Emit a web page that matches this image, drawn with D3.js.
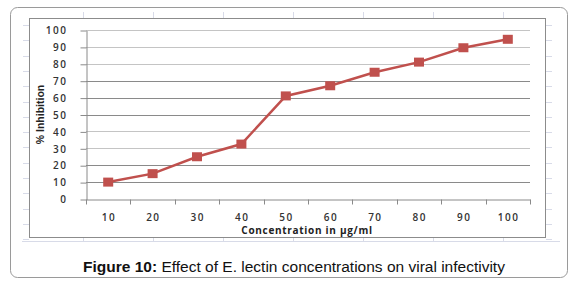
<!DOCTYPE html>
<html>
<head>
<meta charset="utf-8">
<script src="https://cdn.jsdelivr.net/npm/d3@7"></script>
<style>
  body { margin: 0; background: #fff; }
  svg { display: block; }
</style>
</head>
<body>
<div id="chart"></div>
<script>
var concentrations = [10, 20, 30, 40, 50, 60, 70, 80, 90, 100];
var inhibition = [10, 15, 25, 32.5, 61, 67, 75, 81, 89.5, 94.5];
var yTicks = [0, 10, 20, 30, 40, 50, 60, 70, 80, 90, 100];
// gridlines that come out lighter in the original
var lightGrid = [30, 40, 80, 90, 100];

var w = 576, h = 287;
var svg = d3.select("#chart").append("svg")
  .attr("width", w)
  .attr("height", h);

// outer figure frame
svg.append("rect")
  .attr("x", 10.5).attr("y", 7.5)
  .attr("width", 557).attr("height", 270)
  .attr("rx", 7)
  .style("fill", "#fff")
  .style("stroke", "#9a9a9a");

// faint spreadsheet cells peeking round the chart
var cells = svg.append("g").style("stroke", "#d8dbe8").style("stroke-width", 1);
d3.range(25, 240, 15.3).forEach(function(y) {
  cells.append("line").attr("x1", 23).attr("x2", 29).attr("y1", Math.round(y) + .5).attr("y2", Math.round(y) + .5);
  cells.append("line").attr("x1", 546).attr("x2", 552).attr("y1", Math.round(y) + .5).attr("y2", Math.round(y) + .5);
});
d3.range(83, 520, 70).forEach(function(x) {
  cells.append("line").attr("x1", x + .5).attr("x2", x + .5).attr("y1", 12).attr("y2", 18);
  cells.append("line").attr("x1", x + .5).attr("x2", x + .5).attr("y1", 238).attr("y2", 242);
});
cells.append("line").attr("x1", 22).attr("x2", 560).attr("y1", 241.5).attr("y2", 241.5);

// chart area box
svg.append("rect")
  .attr("x", 29.5).attr("y", 18.5)
  .attr("width", 516).attr("height", 219)
  .style("fill", "#fff")
  .style("stroke", "#8c8c8c");

var margin = { left: 86, right: 530, top: 30, bottom: 199 };

var x = d3.scaleBand()
  .domain(concentrations)
  .range([margin.left, margin.right]);

var y = d3.scaleLinear()
  .domain([0, 100])
  .range([margin.bottom, margin.top]);

// gridlines
svg.append("g")
  .selectAll("line")
  .data(yTicks.filter(function(d) { return d > 0; }))
  .enter()
  .append("line")
  .attr("x1", margin.left)
  .attr("x2", margin.right)
  .attr("y1", function(d) { return Math.round(y(d)) + .5; })
  .attr("y2", function(d) { return Math.round(y(d)) + .5; })
  .style("stroke", function(d) { return lightGrid.indexOf(d) >= 0 ? "#c4c4c4" : "#8a8a8a"; })
  .style("stroke-width", 1);

var tickFont = "'Open Sans', 'DejaVu Sans', sans-serif";

// y axis
var yAxis = svg.append("g")
  .attr("transform", "translate(" + (margin.left + .5) + ",0.5)")
  .call(d3.axisLeft(y).tickValues(yTicks).tickSize(6).tickPadding(13).tickSizeOuter(0));
yAxis.select(".domain").style("stroke", "#8a8a8a");
yAxis.selectAll(".tick line").style("stroke", "#8a8a8a");
yAxis.selectAll("text")
  .style("font-family", tickFont)
  .style("font-size", "10px")
  .style("font-weight", "600")
  .style("letter-spacing", "1.5px")
  .style("fill", "#333");

// x axis
var xAxis = svg.append("g")
  .attr("transform", "translate(0," + (Math.round(margin.bottom) + .5) + ")")
  .call(d3.axisBottom(x).tickSize(0).tickPadding(14));
xAxis.select(".domain").style("stroke", "#8a8a8a");
xAxis.selectAll("text")
  .attr("dx", "0.75px")
  .style("font-family", tickFont)
  .style("font-size", "10px")
  .style("font-weight", "600")
  .style("letter-spacing", "1.5px")
  .style("fill", "#333");
// category boundary ticks
xAxis.selectAll(".sep")
  .data(d3.range(concentrations.length + 1))
  .enter()
  .append("line")
  .attr("class", "sep")
  .attr("x1", function(i) { return Math.round(margin.left + i * x.bandwidth()) + .5; })
  .attr("x2", function(i) { return Math.round(margin.left + i * x.bandwidth()) + .5; })
  .attr("y1", 0)
  .attr("y2", 5)
  .style("stroke", "#8a8a8a");

// axis titles
svg.append("text")
  .attr("x", 307)
  .attr("y", 234)
  .attr("text-anchor", "middle")
  .style("font-family", tickFont)
  .style("font-size", "10px")
  .style("font-weight", "700")
  .style("letter-spacing", "0.7px")
  .style("fill", "#222")
  .text("Concentration in µg/ml");

svg.append("text")
  .attr("transform", "translate(44,114.5) rotate(-90)")
  .attr("text-anchor", "middle")
  .style("font-family", "'Liberation Sans Narrow', 'Liberation Sans', sans-serif")
  .style("font-size", "10.5px")
  .style("font-weight", "700")
  .style("fill", "#222")
  .text("% Inhibition");

// series
var pts = concentrations.map(function(c, i) { return [c, inhibition[i]]; });
var line = d3.line()
  .x(function(d) { return x(d[0]) + x.bandwidth() / 2; })
  .y(function(d) { return y(d[1]); });

svg.append("path")
  .datum(pts)
  .attr("d", line)
  .style("fill", "none")
  .style("stroke", "#c0504d")
  .style("stroke-width", 2.5);

svg.selectAll(".marker")
  .data(pts)
  .enter()
  .append("rect")
  .attr("class", "marker")
  .attr("x", function(d) { return x(d[0]) + x.bandwidth() / 2 - 5; })
  .attr("y", function(d) { return y(d[1]) - 4.5; })
  .attr("width", 10)
  .attr("height", 9)
  .style("fill", "#c0504d");

// caption
var cap = svg.append("text")
  .attr("x", 294)
  .attr("y", 272)
  .attr("text-anchor", "middle")
  .style("font-family", "'Liberation Sans', Arial, sans-serif")
  .style("font-size", "15.5px")
  .style("fill", "#111");
cap.append("tspan").style("font-weight", "700").text("Figure 10:");
cap.append("tspan").text(" Effect of E. lectin concentrations on viral infectivity");
</script>
</body>
</html>
